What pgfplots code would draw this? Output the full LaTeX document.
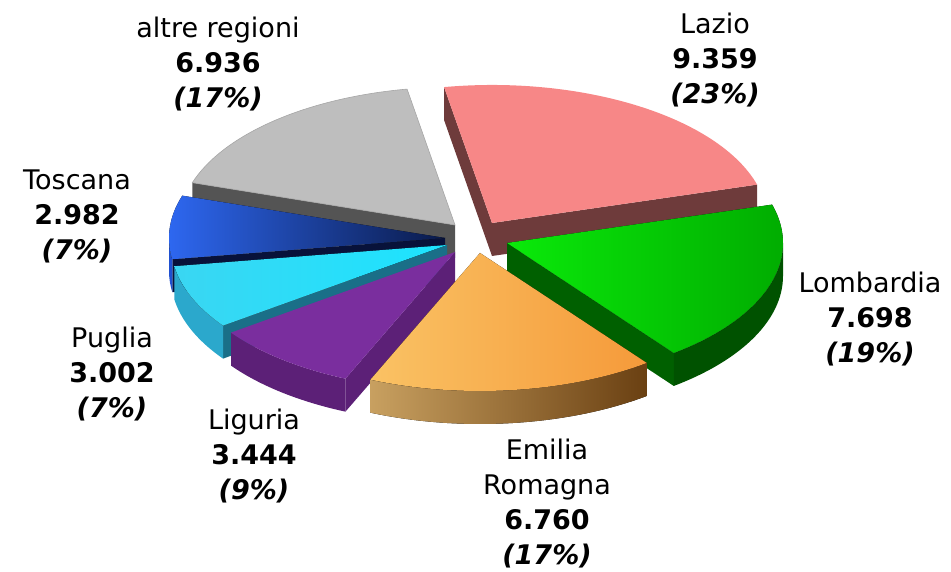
\documentclass[border=0pt]{standalone}
\usepackage{pgfplots}
\pgfplotsset{compat=1.18}
\usepackage{pgfplotstable}
\usepackage{fontspec}
\setmainfont{DejaVu Sans}

% value = regional value, ax/ay = position of the (exploded) slice apex
\pgfplotstableread{
region value ax ay
Lazio 9359 492 349
Lombardia 7698 507 329
Emilia 6760 480 319
Liguria 3444 455 320
Puglia 3002 447 327
Toscana 2982 445 334
altre 6936 455 347
}\pietable

\newcommand{\pieA}{276}
\newcommand{\pieB}{138}
\newcommand{\pieD}{33}
\newcommand{\pieStart}{100}

\gdef\pietotal{0}
\foreach \i in {0,...,6}{%
  \pgfplotstablegetelem{\i}{value}\of\pietable
  \pgfmathsetmacro\tmp{\pietotal+\pgfplotsretval/1000}%
  \xdef\pietotal{\tmp}%
}
\gdef\piecum{0}
\foreach \i in {0,...,6}{%
  \pgfplotstablegetelem{\i}{value}\of\pietable
  \pgfmathsetmacro\tstart{\pieStart-360*\piecum/\pietotal}%
  \pgfmathsetmacro\tmp{\piecum+\pgfplotsretval/1000}%
  \xdef\piecum{\tmp}%
  \pgfmathsetmacro\tend{\pieStart-360*\piecum/\pietotal}%
  \expandafter\xdef\csname piets\i\endcsname{\tstart}%
  \expandafter\xdef\csname piete\i\endcsname{\tend}%
  \pgfplotstablegetelem{\i}{ax}\of\pietable
  \expandafter\xdef\csname pieax\i\endcsname{\pgfplotsretval}%
  \pgfplotstablegetelem{\i}{ay}\of\pietable
  \expandafter\xdef\csname pieay\i\endcsname{\pgfplotsretval}%
}

\newcommand{\pieslice}[5]{%
\pgfplotsextra{%
 \edef\cx{\csname pieax#1\endcsname}%
 \edef\cy{\csname pieay#1\endcsname}%
 \edef\ta{\csname piets#1\endcsname}%
 \edef\tb{\csname piete#1\endcsname}%
 \pgfmathsetmacro\xa{\cx+\pieA*cos(\ta)}%
 \pgfmathsetmacro\ya{\cy+\pieB*sin(\ta)}%
 \pgfmathsetmacro\xb{\cx+\pieA*cos(\tb)}%
 \pgfmathsetmacro\yb{\cy+\pieB*sin(\tb)}%
 \pgfmathsetmacro\cyd{\cy-\pieD}%
 \pgfmathsetmacro\yad{\ya-\pieD}%
 \pgfmathsetmacro\ybd{\yb-\pieD}%
 \pgfmathtruncatemacro\showa{cos(\ta)<0}%
 \pgfmathtruncatemacro\showb{cos(\tb)>0}%
 \ifnum\showa=1
   \fill[#3] (axis cs:\cx,\cy) -- (axis cs:\xa,\ya) -- (axis cs:\xa,\yad) -- (axis cs:\cx,\cyd) -- cycle;
 \fi
 \ifnum\showb=1
   \fill[#4] (axis cs:\cx,\cy) -- (axis cs:\xb,\yb) -- (axis cs:\xb,\ybd) -- (axis cs:\cx,\cyd) -- cycle;
 \fi
 \pgfmathsetmacro\lo{max(\tb,-180)}%
 \pgfmathsetmacro\hi{min(\ta,0)}%
 \pgfmathtruncatemacro\showo{\lo<\hi}%
 \ifnum\showo=1
   \pgfmathsetmacro\xh{\cx+\pieA*cos(\hi)}%
   \pgfmathsetmacro\yh{\cy+\pieB*sin(\hi)}%
   \fill[#5] (axis cs:\xh,\yh) arc[start angle=\hi, end angle=\lo, x radius=\pieA pt, y radius=\pieB pt] -- ++(0pt,-\pieD pt) arc[start angle=\lo, end angle=\hi, x radius=\pieA pt, y radius=\pieB pt] -- cycle;
 \fi
 \fill[#2] (axis cs:\cx,\cy) -- (axis cs:\xa,\ya) arc[start angle=\ta, end angle=\tb, x radius=\pieA pt, y radius=\pieB pt] -- cycle;
}}

\definecolor{lazioTop}{HTML}{F78787}
\definecolor{lazioWall}{HTML}{6E3B3B}
\definecolor{lombA}{HTML}{0AEA0A}
\definecolor{lombB}{HTML}{00A800}
\definecolor{lombWall}{HTML}{005200}
\definecolor{lombWall2}{HTML}{006000}
\definecolor{emA}{HTML}{FAC264}
\definecolor{emB}{HTML}{F59A3A}
\definecolor{emWallA}{HTML}{C8A060}
\definecolor{emWallB}{HTML}{6A4012}
\definecolor{ligTop}{HTML}{7A2E9E}
\definecolor{ligWall}{HTML}{5C2077}
\definecolor{pugA}{HTML}{3AD6F2}
\definecolor{pugB}{HTML}{1CE4FF}
\definecolor{pugWall}{HTML}{2BA8CC}
\definecolor{pugWall2}{HTML}{1A6F88}
\definecolor{tosA}{HTML}{2E68F2}
\definecolor{tosB}{HTML}{0A1A4A}
\definecolor{tosWall}{HTML}{1F50D0}
\definecolor{tosWall2}{HTML}{08123A}
\definecolor{altTop}{HTML}{BEBEBE}
\definecolor{altWall}{HTML}{545454}

\tikzset{pielabel/.style={font=\fontsize{27}{35}\selectfont, align=center, text=black, inner sep=0pt}}

\begin{document}
\begin{tikzpicture}
\begin{axis}[x=1pt, y=1pt, xmin=0, xmax=951, ymin=0, ymax=572,
  hide axis, scale only axis, clip=false, disabledatascaling]
\path (axis cs:0,0) rectangle (axis cs:951,572);
% back to front
\pieslice{0}{lazioTop}{lazioWall}{lazioWall}{lazioWall}
\pieslice{6}{altTop, draw=gray!70, line width=0.6pt}{altWall}{altWall}{altWall}
\pieslice{5}{left color=tosA, right color=tosB}{tosWall2}{tosWall2}{tosWall}
\pieslice{1}{left color=lombA, right color=lombB}{lombWall2}{lombWall2}{lombWall}
\pieslice{4}{left color=pugA, right color=pugB}{pugWall2}{pugWall2}{pugWall}
\pieslice{3}{ligTop}{ligWall}{ligWall}{ligWall}
\pieslice{2}{left color=emA, right color=emB}{emWallB}{emWallB}{left color=emWallA, right color=emWallB}

\node[pielabel] at (axis cs:218,508) {altre regioni\\\textbf{6.936}\\\textbf{\textit{(17\%)}}};
\node[pielabel] at (axis cs:715,512) {Lazio\\\textbf{9.359}\\\textbf{\textit{(23\%)}}};
\node[pielabel] at (axis cs:870,253) {Lombardia\\\textbf{7.698}\\\textbf{\textit{(19\%)}}};
\node[pielabel] at (axis cs:547,68) {Emilia\\Romagna\\\textbf{6.760}\\\textbf{\textit{(17\%)}}};
\node[pielabel] at (axis cs:254,116) {Liguria\\\textbf{3.444}\\\textbf{\textit{(9\%)}}};
\node[pielabel] at (axis cs:112,198) {Puglia\\\textbf{3.002}\\\textbf{\textit{(7\%)}}};
\node[pielabel] at (axis cs:77,356) {Toscana\\\textbf{2.982}\\\textbf{\textit{(7\%)}}};
\end{axis}
\end{tikzpicture}
\end{document}
